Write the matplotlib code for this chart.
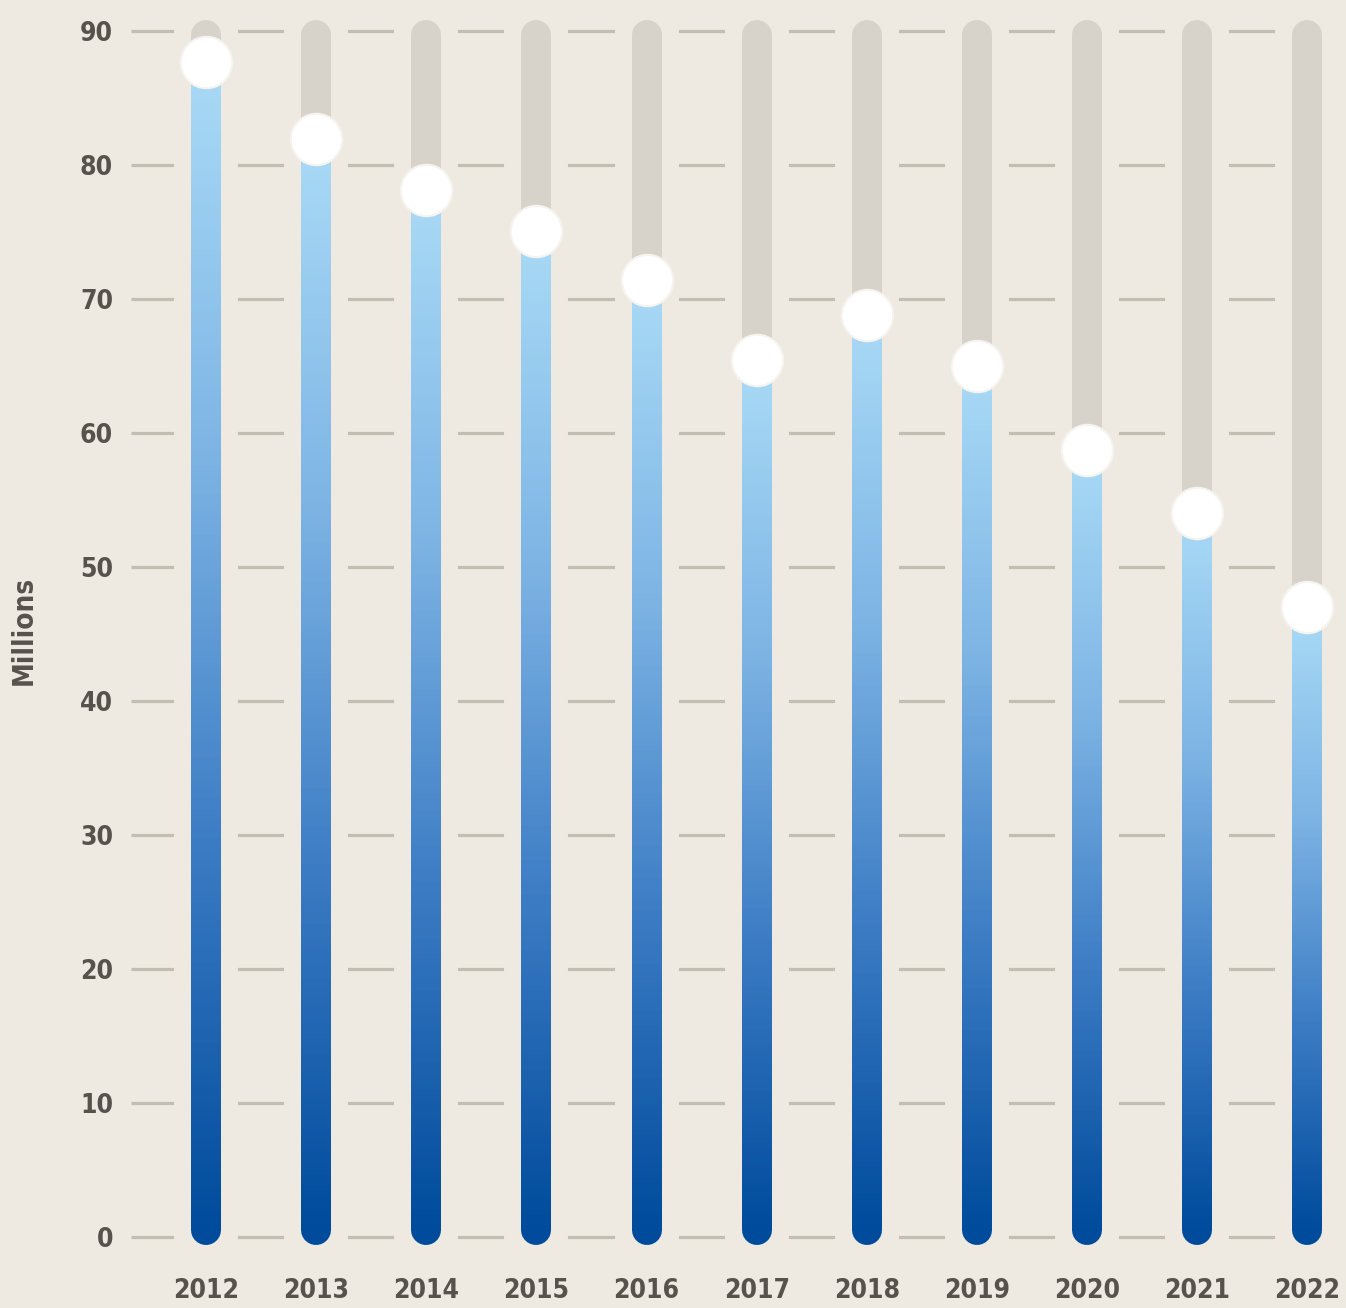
import numpy as np
import matplotlib.pyplot as plt
from matplotlib.colors import LinearSegmentedColormap
from matplotlib.collections import LineCollection

years = ["2012", "2013", "2014", "2015", "2016", "2017", "2018", "2019", "2020", "2021", "2022"]
values = [87.7, 81.9, 78.1, 75.1, 71.4, 65.4, 68.8, 65.0, 58.7, 54.0, 47.0]
yticks = [0, 10, 20, 30, 40, 50, 60, 70, 80, 90]

bg = "#EEEAE2"
track = "#D7D2CA"
gridc = "#C4BDB1"
textc = "#57524C"

plt.rcParams['font.family'] = ['DejaVu Sans']
plt.rcParams['font.stretch'] = 'condensed'

fig = plt.figure(figsize=(13.46, 13.08), dpi=100, facecolor=bg)
ax = fig.add_axes([131/1346, 48/1308, (1346-131)/1346, 1260/1308])
ax.set_facecolor(bg)
for s in ax.spines.values():
    s.set_visible(False)

x = np.arange(len(years))

# gridlines, broken around bars by a background mask
for t in yticks:
    ax.plot([-0.68, 10], [t, t], color=gridc, lw=2.3, zorder=1, solid_capstyle='butt')
for xi in x:
    ax.plot([xi, xi], [-1.5, 92], color=bg, lw=46, zorder=2, solid_capstyle='butt')

cmap = LinearSegmentedColormap.from_list("b", ["#004B9C", "#3C7CC4", "#7DB4E4", "#A9DAF6"])
n = 200

for xi, v in zip(x, values):
    # grey track
    ax.plot([xi, xi], [1, 89.7], color=track, lw=21.6, solid_capstyle='round', zorder=3)
    # rounded bottom cap
    ax.plot([xi, xi], [0.55, 3], color="#004B9C", lw=21.6, solid_capstyle='round', zorder=4)
    ys = np.linspace(0.55, v, n + 1)
    segs = [[(xi, ys[i]), (xi, ys[i + 1] + 0.05)] for i in range(n)]
    lc = LineCollection(segs, colors=cmap(np.linspace(0, 1, n)), linewidths=21.6,
                        capstyle='butt', zorder=5)
    ax.add_collection(lc)
    ax.plot(xi, v, 'o', ms=37, color='white', mec='#F7F4EF', mew=1.5, zorder=6)

ax.set_xlim(-0.68, 10.35)
ax.set_ylim(-1.72, 92.3)
ax.set_yticks(yticks)
ax.set_yticklabels([str(t) for t in yticks], fontsize=19, color=textc, fontweight='bold')
ax.set_xticks(x)
ax.set_xticklabels(years, fontsize=19, color=textc, fontweight='bold')
ax.tick_params(axis='y', length=0, pad=13)
ax.tick_params(axis='x', length=0, pad=13)
ax.set_ylabel("Millions", fontsize=20, color=textc, fontweight='bold', labelpad=30)

fig.savefig("out.png", dpi=100, facecolor=bg)
